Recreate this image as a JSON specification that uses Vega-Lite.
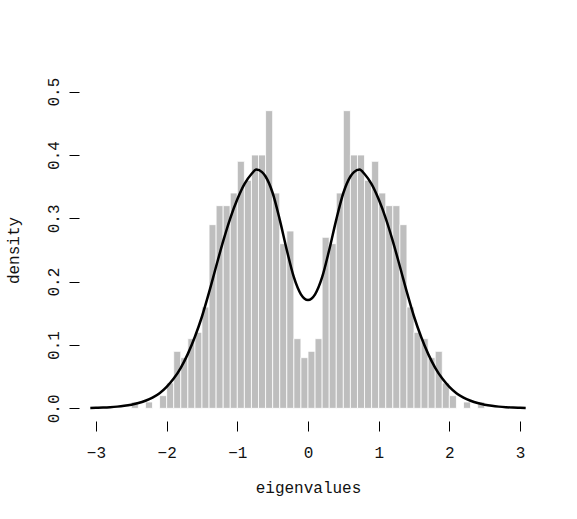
{
  "$schema": "https://vega.github.io/schema/vega-lite/v6.json",
  "width": 458,
  "height": 342,
  "autosize": {"type": "none"},
  "padding": {"left": 79, "top": 79, "right": 40, "bottom": 98},
  "background": "white",
  "config": {
    "view": {"stroke": null},
    "font": "Liberation Mono",
    "axis": {"labelFont": "Liberation Mono", "titleFont": "Liberation Mono", "labelFontSize": 16, "titleFontSize": 16, "labelColor": "#111111", "titleColor": "#111111", "titleFontWeight": "normal", "grid": false, "domain": false, "tickColor": "black", "tickSize": 10, "tickWidth": 1}
  },
  "datasets": {
    "hist": [
      {"lo": -2.5, "hi": -2.4, "density": 0.01},
      {"lo": -2.3, "hi": -2.2, "density": 0.01},
      {"lo": -2.1, "hi": -2.0, "density": 0.02},
      {"lo": -2.0, "hi": -1.9, "density": 0.04},
      {"lo": -1.9, "hi": -1.8, "density": 0.09},
      {"lo": -1.8, "hi": -1.7, "density": 0.08},
      {"lo": -1.7, "hi": -1.6, "density": 0.11},
      {"lo": -1.6, "hi": -1.5, "density": 0.12},
      {"lo": -1.5, "hi": -1.4, "density": 0.16},
      {"lo": -1.4, "hi": -1.3, "density": 0.29},
      {"lo": -1.3, "hi": -1.2, "density": 0.32},
      {"lo": -1.2, "hi": -1.1, "density": 0.32},
      {"lo": -1.1, "hi": -1.0, "density": 0.34},
      {"lo": -1.0, "hi": -0.9, "density": 0.39},
      {"lo": -0.9, "hi": -0.8, "density": 0.36},
      {"lo": -0.8, "hi": -0.7, "density": 0.40},
      {"lo": -0.7, "hi": -0.6, "density": 0.40},
      {"lo": -0.6, "hi": -0.5, "density": 0.47},
      {"lo": -0.5, "hi": -0.4, "density": 0.34},
      {"lo": -0.4, "hi": -0.3, "density": 0.26},
      {"lo": -0.3, "hi": -0.2, "density": 0.28},
      {"lo": -0.2, "hi": -0.1, "density": 0.11},
      {"lo": -0.1, "hi": 0.0, "density": 0.08},
      {"lo": 0.0, "hi": 0.1, "density": 0.09},
      {"lo": 0.1, "hi": 0.2, "density": 0.11},
      {"lo": 0.2, "hi": 0.3, "density": 0.27},
      {"lo": 0.3, "hi": 0.4, "density": 0.26},
      {"lo": 0.4, "hi": 0.5, "density": 0.34},
      {"lo": 0.5, "hi": 0.6, "density": 0.47},
      {"lo": 0.6, "hi": 0.7, "density": 0.40},
      {"lo": 0.7, "hi": 0.8, "density": 0.40},
      {"lo": 0.8, "hi": 0.9, "density": 0.36},
      {"lo": 0.9, "hi": 1.0, "density": 0.39},
      {"lo": 1.0, "hi": 1.1, "density": 0.34},
      {"lo": 1.1, "hi": 1.2, "density": 0.32},
      {"lo": 1.2, "hi": 1.3, "density": 0.32},
      {"lo": 1.3, "hi": 1.4, "density": 0.29},
      {"lo": 1.4, "hi": 1.5, "density": 0.16},
      {"lo": 1.5, "hi": 1.6, "density": 0.12},
      {"lo": 1.6, "hi": 1.7, "density": 0.11},
      {"lo": 1.7, "hi": 1.8, "density": 0.08},
      {"lo": 1.8, "hi": 1.9, "density": 0.09},
      {"lo": 1.9, "hi": 2.0, "density": 0.04},
      {"lo": 2.0, "hi": 2.1, "density": 0.02},
      {"lo": 2.2, "hi": 2.3, "density": 0.01},
      {"lo": 2.4, "hi": 2.5, "density": 0.01}
    ],
    "curve": [
      {"x": -3.08, "y": 0.0005},
      {"x": -3.0, "y": 0.0008},
      {"x": -2.9, "y": 0.0012},
      {"x": -2.8, "y": 0.0018},
      {"x": -2.7, "y": 0.0027},
      {"x": -2.6, "y": 0.004},
      {"x": -2.5, "y": 0.0058},
      {"x": -2.4, "y": 0.0083},
      {"x": -2.3, "y": 0.012},
      {"x": -2.2, "y": 0.017},
      {"x": -2.1, "y": 0.024},
      {"x": -2.0, "y": 0.034},
      {"x": -1.9, "y": 0.047},
      {"x": -1.8, "y": 0.064},
      {"x": -1.7, "y": 0.086},
      {"x": -1.6, "y": 0.113},
      {"x": -1.5, "y": 0.145},
      {"x": -1.4, "y": 0.183},
      {"x": -1.3, "y": 0.224},
      {"x": -1.2, "y": 0.264},
      {"x": -1.1, "y": 0.3},
      {"x": -1.0, "y": 0.33},
      {"x": -0.9, "y": 0.354},
      {"x": -0.8, "y": 0.37},
      {"x": -0.73, "y": 0.377},
      {"x": -0.65, "y": 0.373},
      {"x": -0.6, "y": 0.366},
      {"x": -0.5, "y": 0.34},
      {"x": -0.4, "y": 0.298},
      {"x": -0.3, "y": 0.25},
      {"x": -0.2, "y": 0.207},
      {"x": -0.1, "y": 0.18},
      {"x": 0.0, "y": 0.171},
      {"x": 0.1, "y": 0.18},
      {"x": 0.2, "y": 0.207},
      {"x": 0.3, "y": 0.25},
      {"x": 0.4, "y": 0.298},
      {"x": 0.5, "y": 0.34},
      {"x": 0.6, "y": 0.366},
      {"x": 0.65, "y": 0.373},
      {"x": 0.73, "y": 0.377},
      {"x": 0.8, "y": 0.37},
      {"x": 0.9, "y": 0.354},
      {"x": 1.0, "y": 0.33},
      {"x": 1.1, "y": 0.3},
      {"x": 1.2, "y": 0.264},
      {"x": 1.3, "y": 0.224},
      {"x": 1.4, "y": 0.183},
      {"x": 1.5, "y": 0.145},
      {"x": 1.6, "y": 0.113},
      {"x": 1.7, "y": 0.086},
      {"x": 1.8, "y": 0.064},
      {"x": 1.9, "y": 0.047},
      {"x": 2.0, "y": 0.034},
      {"x": 2.1, "y": 0.024},
      {"x": 2.2, "y": 0.017},
      {"x": 2.3, "y": 0.012},
      {"x": 2.4, "y": 0.0083},
      {"x": 2.5, "y": 0.0058},
      {"x": 2.6, "y": 0.004},
      {"x": 2.7, "y": 0.0027},
      {"x": 2.8, "y": 0.0018},
      {"x": 2.9, "y": 0.0012},
      {"x": 3.0, "y": 0.0008},
      {"x": 3.08, "y": 0.0005}
    ]
  },
  "layer": [
    {
      "data": {"name": "hist"},
      "mark": {"type": "bar", "fill": "#bebebe", "stroke": "white", "strokeWidth": 0.8},
      "encoding": {
        "x": {"field": "lo", "type": "quantitative",
          "scale": {"domain": [-3.24, 3.24], "nice": false, "zero": false},
          "axis": {"values": [-3, -2, -1, 0, 1, 2, 3], "format": "d", "title": "eigenvalues", "labelPadding": 26, "labelBaseline": "alphabetic", "titleX": 229, "titleY": 71, "titleBaseline": "alphabetic", "titleAnchor": null, "titleAlign": "center"}},
        "x2": {"field": "hi"},
        "y": {"field": "density", "type": "quantitative",
          "scale": {"domain": [-0.02, 0.52], "nice": false, "zero": false},
          "axis": {"values": [0, 0.1, 0.2, 0.3, 0.4, 0.5], "format": ".1f", "title": "density", "labelAngle": 270, "labelAlign": "center", "labelBaseline": "alphabetic", "labelPadding": 11, "titleAngle": 270, "titleX": -61, "titleY": 171, "titleBaseline": "alphabetic", "titleAlign": "center", "titleAnchor": null}},
        "y2": {"datum": 0}
      }
    },
    {
      "data": {"name": "curve"},
      "mark": {"type": "line", "color": "black", "strokeWidth": 2.5, "interpolate": "monotone"},
      "encoding": {
        "x": {"field": "x", "type": "quantitative"},
        "y": {"field": "y", "type": "quantitative"}
      }
    },
    {
      "mark": {"type": "rule", "color": "black", "strokeWidth": 1},
      "encoding": {
        "x": {"datum": -3},
        "x2": {"datum": 3},
        "y": {"datum": -0.02}
      }
    },
    {
      "mark": {"type": "rule", "color": "black", "strokeWidth": 1},
      "encoding": {
        "x": {"datum": -3.24},
        "y": {"datum": 0},
        "y2": {"datum": 0.5}
      }
    }
  ]
}
